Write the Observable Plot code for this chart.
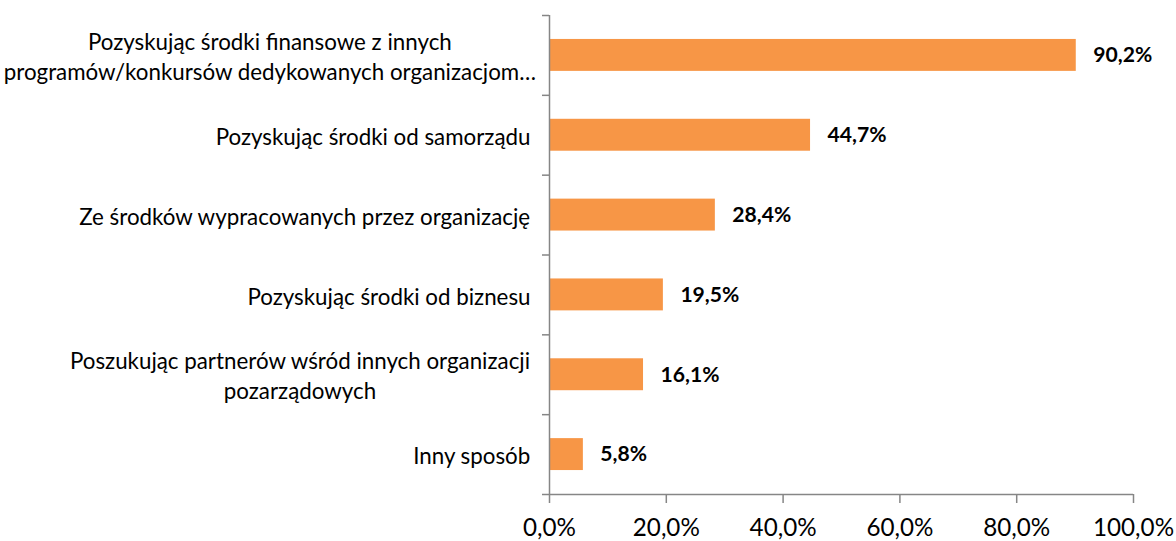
<!DOCTYPE html>
<html><head><meta charset="utf-8">
<script src="https://cdn.jsdelivr.net/npm/d3@7"></script>
<script src="https://cdn.jsdelivr.net/npm/@observablehq/plot@0.6"></script>
<style>body{margin:0;background:#fff}</style>
</head><body><div id="chart"></div>
<script>
const categories = [
  "Pozyskując środki finansowe z innych\nprogramów/konkursów dedykowanych organizacjom…",
  "Pozyskując środki od samorządu",
  "Ze środków wypracowanych przez organizację",
  "Pozyskując środki od biznesu",
  "Poszukując partnerów wśród innych organizacji\npozarządowych",
  "Inny sposób"
];
const values = [90.2, 44.7, 28.4, 19.5, 16.1, 5.8];
const xTicks = [0, 20, 40, 60, 80, 100];

const FONT = "Lato";
const ctx = document.createElement("canvas").getContext("2d");
function measure(text, size, weight = "normal") {
  ctx.font = `${weight} ${size}px ${FONT}`;
  return ctx.measureText(text).width;
}
const catFs = 25 * 315 / measure("Pozyskując środki od samorządu", 25);
const tickFs = 26 * 53 / measure("0,0%", 26);
const valFs = 24 * 59 / measure("28,4%", 24, "bold");
const fmt = v => v.toFixed(1).replace(".", ",") + "%";

const rows = categories.map((c, i) => ({category: c, value: values[i], i}));
const W = 1176, ML = 549, gap = 19;

const labelMarks = rows.map(r => {
  const w = d3.max(r.category.split("\n"), l => measure(l, catFs));
  let center = ML - gap - w / 2;
  if (center - w / 2 < 3) center = Math.min(3 + w / 2, ML - 4 - w / 2);
  return Plot.text([r], {
    x: 0, y: d => d.i + 0.5, text: "category",
    textAnchor: "middle", dx: center - ML,
    fontSize: catFs, lineHeight: 30 / catFs, fill: "#000"
  });
});

const chart = Plot.plot({
  width: W, height: 541,
  marginLeft: ML, marginRight: 43, marginTop: 15, marginBottom: 47,
  style: {fontFamily: FONT, background: "#fff", color: "#000"},
  x: {domain: [0, 100]},
  y: {domain: [0, 6], reverse: true},
  marks: [
    Plot.rectX(rows, {x1: 0, x2: "value", y1: d => d.i + 0.3, y2: d => d.i + 0.7, fill: "#F79646"}),
    Plot.ruleX([0], {stroke: "#868686", strokeWidth: 1.5}),
    Plot.ruleY([6], {stroke: "#868686", strokeWidth: 1.5}),
    Plot.axisY({ticks: d3.range(7), tickFormat: () => "", tickSize: 7, stroke: "#868686", strokeWidth: 1.5, label: null}),
    Plot.axisX({ticks: xTicks, tickSize: 9, tickPadding: 15, tickFormat: fmt, fontSize: tickFs,
                stroke: "#868686", strokeWidth: 1.5, fill: "#000", label: null}),
    Plot.text(rows, {x: "value", y: d => d.i + 0.5, text: d => fmt(d.value), dx: 17,
                     textAnchor: "start", fontWeight: "bold", fontSize: valFs, fill: "#000"}),
    ...labelMarks
  ]
});
document.getElementById("chart").appendChild(chart);
</script>
</body></html>
